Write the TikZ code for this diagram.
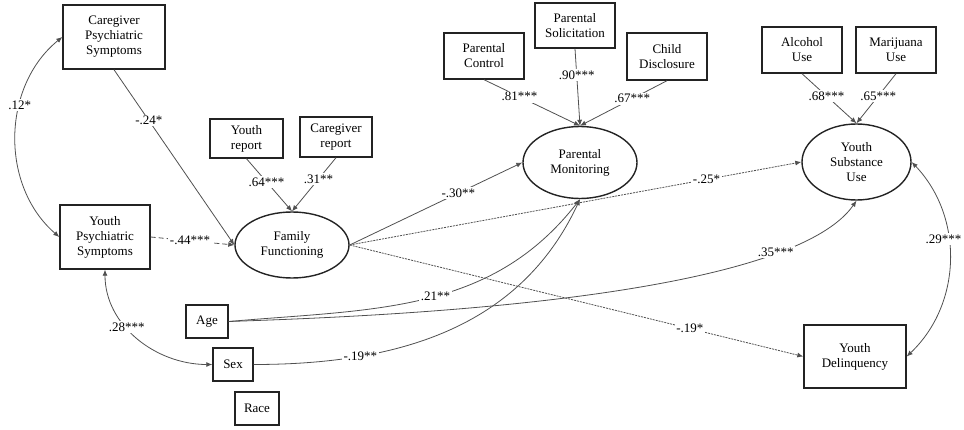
\documentclass[tikz,border=0pt]{standalone}
\usepackage{fontspec}
\setmainfont{Liberation Serif}
\usepackage{tikz}
\usetikzlibrary{shapes.geometric,arrows.meta}
\definecolor{boxgray}{RGB}{35,35,35}
\definecolor{pathgray}{RGB}{80,80,80}

\begin{document}
\begin{tikzpicture}[x=1pt, y=1pt,
    font=\fontsize{13}{15}\selectfont,
    obsbox/.style={draw=boxgray, line width=1.4pt, align=center, inner sep=1pt},
    latent/.style={ellipse, draw=boxgray, line width=1.4pt, align=center, inner sep=0pt},
    pathline/.style={draw=pathgray, line width=0.8pt, -{Latex[length=6pt,width=5pt]}},
    covline/.style={draw=pathgray, line width=0.8pt, {Latex[length=6pt,width=5pt]}-{Latex[length=6pt,width=5pt]}},
    est/.style={fill=white, inner sep=1.5pt}]
    \useasboundingbox (0,0) rectangle (964,429);

    % Psychiatric symptoms
    \node[obsbox, minimum width=102pt, minimum height=64pt] (cgpsy) at (114,392) {Caregiver\\Psychiatric\\Symptoms};
    \node[obsbox, minimum width=90pt, minimum height=64pt] (ypsy) at (105,192) {Youth\\Psychiatric\\Symptoms};

    % Family functioning
    \node[obsbox, minimum width=73pt, minimum height=39pt] (yrep) at (246.5,290.5) {Youth\\report};
    \node[obsbox, minimum width=72pt, minimum height=40pt] (crep) at (336,292) {Caregiver\\report};
    \node[latent, minimum width=114pt, minimum height=66pt] (famf) at (292,184) {Family\\Functioning};

    % Covariates
    \node[obsbox, minimum width=42pt, minimum height=33pt] (age) at (207,107.5) {Age};
    \node[obsbox, minimum width=40pt, minimum height=33pt] (sex) at (233,64.5) {Sex};
    \node[obsbox, minimum width=44pt, minimum height=33pt] (race) at (257,20.5) {Race};

    % Parental monitoring
    \node[obsbox, minimum width=80pt, minimum height=46pt] (pcon) at (484,373) {Parental\\Control};
    \node[obsbox, minimum width=80pt, minimum height=45pt] (psol) at (575,403.5) {Parental\\Solicitation};
    \node[obsbox, minimum width=80pt, minimum height=47pt] (cdis) at (667,372.5) {Child\\Disclosure};
    \node[latent, minimum width=114pt, minimum height=72pt] (pmon) at (580,266.5) {Parental\\Monitoring};

    % Outcomes
    \node[obsbox, minimum width=80pt, minimum height=46pt] (alc) at (802,379) {Alcohol\\Use};
    \node[obsbox, minimum width=80pt, minimum height=46pt] (mar) at (896,379) {Marijuana\\Use};
    \node[latent, minimum width=109pt, minimum height=76pt] (ysu) at (856.5,267) {Youth\\Substance\\Use};
    \node[obsbox, minimum width=102pt, minimum height=63pt] (ydel) at (855,72.5) {Youth\\Delinquency};

    % Loadings
    \draw[pathline] (yrep.south) -- node[est, pos=0.44] {.64***} (famf.north);
    \draw[pathline] (crep.south) -- node[est, pos=0.4] {.31**} (famf.north);
    \draw[pathline] (pcon.south) -- node[est, pos=0.37] {.81***} (pmon.north);
    \draw[pathline] (psol.south) -- node[est, pos=0.34] {.90***} (pmon.north);
    \draw[pathline] (cdis.south) -- node[est, pos=0.4] {.67***} (pmon.north);
    \draw[pathline] (alc.south) -- node[est, pos=0.45] {.68***} (ysu.north);
    \draw[pathline] (mar.south) -- node[est, pos=0.45] {.65***} (ysu.north);

    % Structural paths
    \draw[pathline] (cgpsy.south) -- node[est, pos=0.29] {-.24*} (famf.west);
    \draw[pathline, dash pattern=on 5pt off 3pt] (ypsy.east) -- node[est, pos=0.47] {-.44***} (famf.west);
    \draw[pathline] (famf.east) -- node[est, pos=0.63] {-.30**} (pmon.west);
    \draw[pathline, dash pattern=on 2pt off 1pt] (famf.east) -- node[est, pos=0.79] {-.25*} (ysu.west);
    \draw[pathline, dash pattern=on 2pt off 1pt] (famf.east) -- node[est, pos=0.75] {-.19*} (ydel.west);
    \draw[pathline] (age.east) to[out=5, in=232] node[est, pos=0.53] {.21**} (pmon.south);
    \draw[pathline] (age.east) to[out=2, in=235, looseness=0.5] node[est, pos=0.8] {.35***} (ysu.south);
    \draw[pathline] (sex.east) to[out=0, in=245] node[est, pos=0.26] {-.19**} (pmon.south);

    % Covariances
    \draw[covline] (cgpsy.west) to[bend right=50] node[est, pos=0.36] {.12*} (ypsy.west);
    \draw[covline] (ypsy.south) to[out=-90, in=180] node[est, pos=0.4] {.28***} (sex.west);
    \draw[covline] (ysu.east) to[bend left=45] node[est, pos=0.4, xshift=-5pt] {.29***} (ydel.east);
\end{tikzpicture}
\end{document}
